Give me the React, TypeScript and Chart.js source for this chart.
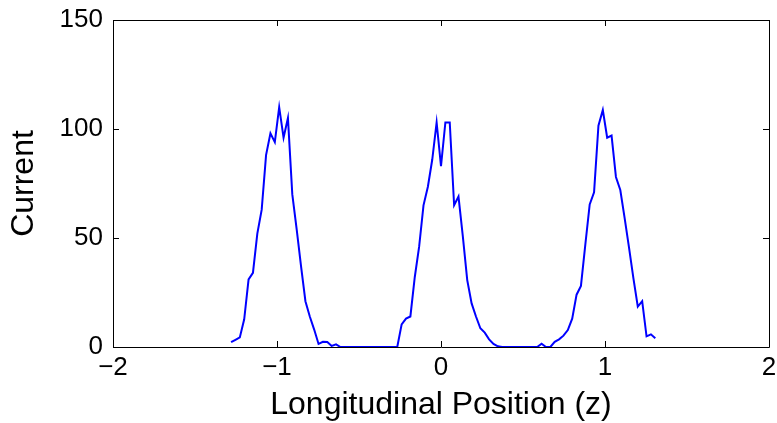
import React, { useEffect, useRef } from "react";
import { Chart, registerables } from "chart.js";

Chart.register(...registerables);

const zPositions = [
  -1.28, -1.2533, -1.2267, -1.2, -1.1733, -1.1467, -1.12, -1.0933, -1.0667, -1.04,
  -1.0133, -0.9867, -0.96, -0.9333, -0.9067, -0.88, -0.8533, -0.8267, -0.8, -0.7733,
  -0.7467, -0.72, -0.6933, -0.6667, -0.64, -0.6133,
  -0.2667, -0.24, -0.2133, -0.1867, -0.16, -0.1333, -0.1067, -0.08, -0.0533, -0.0267,
  0, 0.0267, 0.0533, 0.08, 0.1067, 0.1333, 0.16, 0.1867, 0.2133, 0.24,
  0.2667, 0.2933, 0.32, 0.3467, 0.3733,
  0.5867, 0.6133, 0.64, 0.6667, 0.6933, 0.72, 0.7467, 0.7733, 0.8, 0.8267,
  0.8533, 0.88, 0.9067, 0.9333, 0.96, 0.9867, 1.0133, 1.04, 1.0667, 1.0933,
  1.12, 1.1467, 1.1733, 1.2, 1.2267, 1.2533, 1.28, 1.3067,
];

const currentValues = [
  2.2, 3.3, 4.4, 12.7, 31, 34, 52, 63, 88, 98,
  94, 110, 96, 105, 70, 54, 37, 21, 14, 8,
  1.4, 2.4, 2.3, 0.5, 1.2, 0,
  0, 10.4, 13, 14, 32, 46, 65, 73.5, 86, 103,
  83, 103, 103, 65, 69, 50.6, 30.7, 20, 14, 8.6,
  6.6, 3.5, 1.4, 0.3, 0,
  0, 1.5, 0, 0, 2.4, 3.5, 5.2, 7.8, 13, 24,
  28, 47, 65.4, 71, 101.5, 108.7, 96, 97, 78, 72,
  59, 45.5, 31.5, 18.5, 21, 4.9, 5.8, 4,
];

const xTicks = [-2, -1, 0, 1, 2];
const yTicks = [0, 50, 100, 150];

const xTitle = "Longitudinal Position (z)";
const yTitle = "Current";

const FONT = "'Liberation Sans', Arial, Helvetica, sans-serif";

const framePlugin = {
  id: "matlabFrame",
  afterDraw(chart: any) {
    const { ctx, chartArea } = chart;
    const { left, right, top, bottom } = chartArea;
    const xs = chart.scales.x;
    const ys = chart.scales.y;
    const tl = 6;
    ctx.save();
    ctx.strokeStyle = "#000";
    ctx.lineWidth = 1;
    ctx.beginPath();
    ctx.rect(Math.round(left) + 0.5, Math.round(top) + 0.5, Math.round(right - left), Math.round(bottom - top));
    for (const v of xTicks) {
      const px = Math.round(xs.getPixelForValue(v)) + 0.5;
      ctx.moveTo(px, bottom);
      ctx.lineTo(px, bottom - tl);
      ctx.moveTo(px, top);
      ctx.lineTo(px, top + tl);
    }
    for (const v of yTicks) {
      const py = Math.round(ys.getPixelForValue(v)) + 0.5;
      ctx.moveTo(left, py);
      ctx.lineTo(left + tl, py);
      ctx.moveTo(right, py);
      ctx.lineTo(right - tl, py);
    }
    ctx.stroke();
    ctx.restore();
  },
};

export default function App() {
  const ref = useRef<HTMLCanvasElement | null>(null);

  useEffect(() => {
    document.body.style.margin = "0";
    const canvas = ref.current;
    if (!canvas) return;
    const data = zPositions.map((z, i) => ({ x: z, y: currentValues[i] }));
    const chart = new Chart(canvas, {
      type: "line",
      data: {
        datasets: [
          {
            data,
            borderColor: "#0000ff",
            borderWidth: 2,
            pointRadius: 0,
            tension: 0,
            fill: false,
          },
        ],
      },
      options: {
        animation: false,
        responsive: false,
        maintainAspectRatio: false,
        devicePixelRatio: 1,
        layout: { padding: { left: 0, right: 8, top: 20, bottom: 0 } },
        plugins: {
          legend: { display: false },
          tooltip: { enabled: false },
          title: { display: false },
        },
        scales: {
          x: {
            type: "linear",
            min: -2,
            max: 2,
            afterBuildTicks: (s: any) => {
              s.ticks = xTicks.map((v) => ({ value: v }));
            },
            afterFit: (s: any) => {
              s.height = 76;
              s.paddingLeft = 0;
              s.paddingRight = 0;
              s.paddingTop = 0;
              s.paddingBottom = 0;
            },
            grid: { display: false, drawTicks: false },
            border: { display: false },
            ticks: {
              padding: 8,
              color: "#000",
              font: { family: FONT, size: 26, lineHeight: 1 },
              maxRotation: 0,
              autoSkip: false,
              callback: (v: any) => (Number(v) < 0 ? "\u2212" + Math.abs(Number(v)) : String(v)),
            },
            title: {
              display: true,
              text: xTitle,
              color: "#000",
              font: { family: FONT, size: 32, lineHeight: 1 },
              padding: { top: 0, bottom: 2 },
            },
          },
          y: {
            type: "linear",
            min: 0,
            max: 150,
            afterBuildTicks: (s: any) => {
              s.ticks = yTicks.map((v) => ({ value: v }));
            },
            afterFit: (s: any) => {
              s.width = 113;
              s.paddingLeft = 0;
              s.paddingRight = 0;
              s.paddingTop = 0;
              s.paddingBottom = 0;
            },
            grid: { display: false, drawTicks: false },
            border: { display: false },
            ticks: {
              padding: 10,
              color: "#000",
              font: { family: FONT, size: 26, lineHeight: 1 },
              autoSkip: false,
            },
            title: {
              display: true,
              text: yTitle,
              color: "#000",
              font: { family: FONT, size: 32, lineHeight: 1 },
              padding: { top: 8, bottom: 0 },
            },
          },
        },
      },
      plugins: [framePlugin],
    });
    return () => chart.destroy();
  }, []);

  return (
    <div style={{ position: "absolute", left: 0, top: 0, width: 777, height: 423, background: "#fff" }}>
      <canvas ref={ref} width={777} height={423} style={{ display: "block", width: 777, height: 423 }} />
    </div>
  );
}
